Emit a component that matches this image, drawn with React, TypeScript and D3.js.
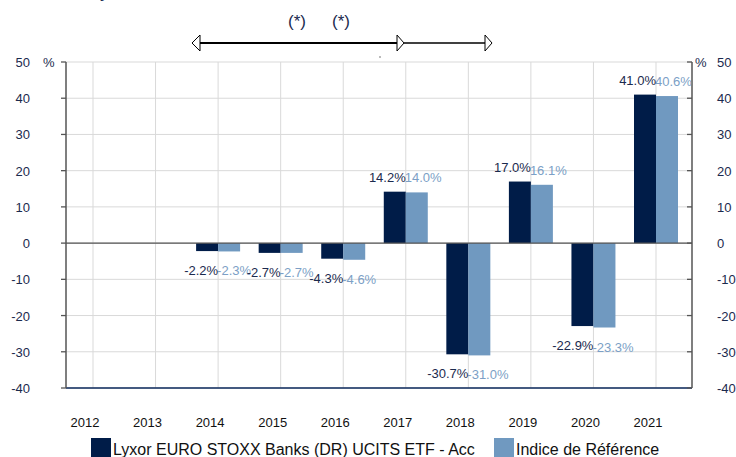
import { useEffect, useRef } from 'react'
import * as d3 from 'd3'

const years = ['2012', '2013', '2014', '2015', '2016', '2017', '2018', '2019', '2020', '2021']
const fundValues: (number | null)[] = [null, null, -2.2, -2.7, -4.3, 14.2, -30.7, 17.0, -22.9, 41.0]
const indexValues: (number | null)[] = [null, null, -2.3, -2.7, -4.6, 14.0, -31.0, 16.1, -23.3, 40.6]
const yTicks = [50, 40, 30, 20, 10, 0, -10, -20, -30, -40]
const seriesNames = ['Lyxor EURO STOXX Banks (DR) UCITS ETF - Acc', 'Indice de Référence']

const DARK = '#001c48'
const LIGHT = '#7099c0'
const LIGHT_TEXT = '#7c9fc6'
const NAVY_TEXT = '#1b2a4e'
const FONT = '"Liberation Sans", Arial, sans-serif'

const App = () => {
    const ref = useRef<SVGSVGElement>(null)

    useEffect(() => {
        const width = 736
        const height = 457
        const left = 66
        const right = 692
        const top = 62
        const bottom = 388
        const barW = 22

        const svg = d3.select(ref.current)
        svg.selectAll('*').remove()
        svg.attr('width', width).attr('height', height).style('font-family', FONT)

        const y = d3.scaleLinear().domain([-40, 50]).range([bottom, top])
        const x = d3.scalePoint<string>().domain(years).range([93, 656])

        // title sits above the picture, only its lowest pixels show
        const cut = svg.append('g').attr('fill', NAVY_TEXT).style('font-size', '20px')
        cut.append('text').attr('x', 100).attr('y', -3).text('y')
        cut.append('text').attr('x', 374).attr('y', -4).text('(**)')
        cut.append('text').attr('x', 594).attr('y', -4).text('(***)')

        // (*) notes and arrows
        svg.append('g')
            .attr('fill', NAVY_TEXT)
            .style('font-size', '17px')
            .attr('text-anchor', 'middle')
            .selectAll('text')
            .data([297, 341])
            .join('text')
            .attr('x', (d) => d)
            .attr('y', 27)
            .text('(*)')

        svg.append('line')
            .attr('x1', 200).attr('x2', 397).attr('y1', 43).attr('y2', 43)
            .attr('stroke', '#000').attr('stroke-width', 2.2)
        svg.append('line')
            .attr('x1', 404).attr('x2', 485).attr('y1', 43).attr('y2', 43)
            .attr('stroke', '#000').attr('stroke-width', 1.5)
        const arrow = (pts: [number, number][]) =>
            svg.append('path')
                .attr('d', d3.line()(pts) + 'Z')
                .attr('fill', '#fff')
                .attr('stroke', '#000')
                .attr('stroke-width', 1)
        arrow([[192, 43], [200, 35], [200, 51]])
        arrow([[404, 43], [397, 35], [397, 51]])
        arrow([[492, 43], [485, 35], [485, 51]])
        svg.append('circle').attr('cx', 380).attr('cy', 57).attr('r', 0.7).attr('fill', '#444')

        // grid
        svg.append('g')
            .selectAll('line')
            .data(yTicks)
            .join('line')
            .attr('x1', left).attr('x2', right)
            .attr('y1', (d) => y(d)).attr('y2', (d) => y(d))
            .attr('stroke', '#d9d9d9').attr('stroke-width', 1)
        svg.append('g')
            .selectAll('line')
            .data(years)
            .join('line')
            .attr('x1', (d) => x(d)!).attr('x2', (d) => x(d)!)
            .attr('y1', top).attr('y2', bottom)
            .attr('stroke', '#d9d9d9').attr('stroke-width', 1)

        // bars
        const rows = years.map((yr, i) => ({ yr, f: fundValues[i], r: indexValues[i] }))
        const bars = svg.append('g')
        bars.selectAll('rect.f')
            .data(rows.filter((d) => d.f != null))
            .join('rect')
            .attr('class', 'f')
            .attr('x', (d) => x(d.yr)! - barW)
            .attr('width', barW)
            .attr('y', (d) => y(Math.max(0, d.f!)))
            .attr('height', (d) => Math.abs(y(d.f!) - y(0)))
            .attr('fill', DARK)
        bars.selectAll('rect.r')
            .data(rows.filter((d) => d.r != null))
            .join('rect')
            .attr('class', 'r')
            .attr('x', (d) => x(d.yr)!)
            .attr('width', barW)
            .attr('y', (d) => y(Math.max(0, d.r!)))
            .attr('height', (d) => Math.abs(y(d.r!) - y(0)))
            .attr('fill', LIGHT)

        // zero line and axes
        svg.append('line')
            .attr('x1', left).attr('x2', right).attr('y1', y(0)).attr('y2', y(0))
            .attr('stroke', '#555').attr('stroke-width', 1.3)
        svg.append('line')
            .attr('x1', left).attr('x2', right).attr('y1', bottom).attr('y2', bottom)
            .attr('stroke', '#0c2a5c').attr('stroke-width', 1.3)
        ;[left, right].forEach((ax) => {
            svg.append('line')
                .attr('x1', ax).attr('x2', ax).attr('y1', top).attr('y2', bottom)
                .attr('stroke', '#555').attr('stroke-width', 1.5)
            svg.append('g')
                .selectAll('line')
                .data(yTicks)
                .join('line')
                .attr('x1', ax - 5).attr('x2', ax)
                .attr('y1', (d) => y(d)).attr('y2', (d) => y(d))
                .attr('stroke', '#555').attr('stroke-width', 1.3)
        })

        // value labels (they overlap in the original too)
        const fmt = (v: number) => v.toFixed(1) + '%'
        const labelY = (v: number) => (v >= 0 ? y(v) - 10 : y(v) + 24)
        svg.append('g')
            .style('font-size', '13px')
            .attr('fill', LIGHT_TEXT)
            .selectAll('text')
            .data(rows.filter((d) => d.r != null))
            .join('text')
            .attr('x', (d) => x(d.yr)! - 1)
            .attr('y', (d) => labelY(d.r!))
            .text((d) => fmt(d.r!))
        svg.append('g')
            .style('font-size', '13px')
            .attr('fill', NAVY_TEXT)
            .attr('text-anchor', 'end')
            .selectAll('text')
            .data(rows.filter((d) => d.f != null))
            .join('text')
            .attr('x', (d) => x(d.yr)!)
            .attr('y', (d) => labelY(d.f!))
            .text((d) => fmt(d.f!))

        // y tick labels
        const axisText = svg.append('g').style('font-size', '13px').attr('fill', NAVY_TEXT)
        axisText.selectAll('text.l')
            .data(yTicks)
            .join('text')
            .attr('class', 'l')
            .attr('x', 30)
            .attr('y', (d) => y(d) + 5)
            .attr('text-anchor', 'end')
            .text((d) => d)
        axisText.selectAll('text.r')
            .data(yTicks)
            .join('text')
            .attr('class', 'r')
            .attr('x', 717)
            .attr('y', (d) => y(d) + 5)
            .text((d) => d)
        axisText.append('text').attr('x', 43).attr('y', y(50) + 5).text('%')
        axisText.append('text').attr('x', 695).attr('y', y(50) + 5).text('%')

        // year labels
        svg.append('g')
            .style('font-size', '13px')
            .attr('fill', '#111')
            .attr('text-anchor', 'middle')
            .selectAll('text')
            .data(years)
            .join('text')
            .attr('x', (d) => x(d)! - 8)
            .attr('y', 427)
            .text((d) => d)

        // legend
        const legend = svg.append('g').style('font-size', '16px').attr('fill', '#111')
        const items = [
            { name: seriesNames[0], color: DARK, x: 91 },
            { name: seriesNames[1], color: LIGHT, x: 494 },
        ]
        items.forEach((it) => {
            legend.append('rect').attr('x', it.x).attr('y', 438).attr('width', 20).attr('height', 19).attr('fill', it.color)
            legend.append('text').attr('x', it.x + 22).attr('y', 455).text(it.name)
        })
    }, [])

    return (
        <div style={{ position: 'absolute', left: 0, top: 0 }}>
            <svg ref={ref} style={{ display: 'block' }} />
        </div>
    )
}

export default App
